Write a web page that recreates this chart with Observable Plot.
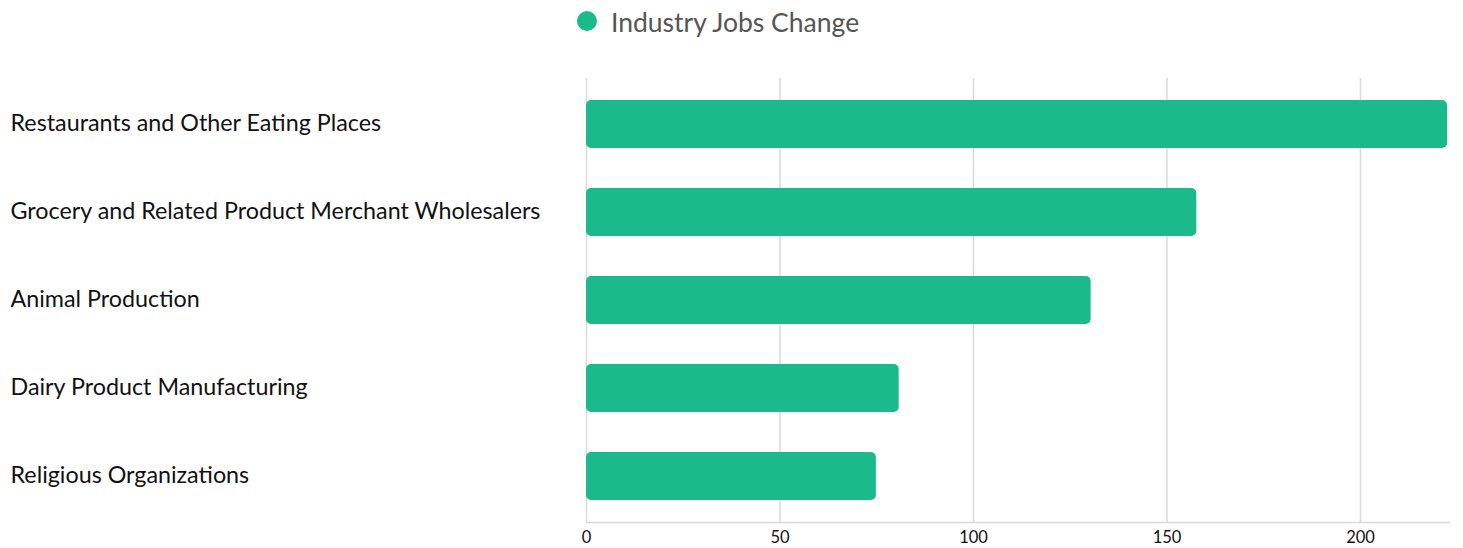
<!DOCTYPE html>
<html><head><meta charset="utf-8">
<script src="https://cdn.jsdelivr.net/npm/d3@7"></script>
<script src="https://cdn.jsdelivr.net/npm/@observablehq/plot@0.6"></script>
<style>
body{margin:0;background:#fff;font-family:Lato,"Open Sans",sans-serif;}
#legend{height:60px;position:relative;}
#legend .sw{position:absolute;left:577px;top:11px;width:20px;height:20px;border-radius:50%;}
#legend .lb{position:absolute;left:611px;top:5px;font-size:26.5px;color:#555;line-height:34px;}
</style></head>
<body>
<div id="legend"></div>
<div id="chart"></div>
<script>
const industries = ["Restaurants and Other Eating Places","Grocery and Related Product Merchant Wholesalers","Animal Production","Dairy Product Manufacturing","Religious Organizations"];
const jobsChange = [222.5, 157.7, 130.4, 80.8, 74.9];
const xTicks = [0, 50, 100, 150, 200];
const seriesName = "Industry Jobs Change";
const color = "#1bba8a";

const data = industries.map((name, i) => ({name, value: jobsChange[i]}));

const leg = document.getElementById("legend");
leg.innerHTML = `<div class="sw" style="background:${color}"></div><div class="lb">${seriesName}</div>`;

const chart = Plot.plot({
  width: 1463,
  height: 488,
  marginLeft: 586,
  marginRight: 14,
  marginTop: 18,
  marginBottom: 26,
  style: {fontFamily: "Lato, 'Open Sans', sans-serif", background: "#fff"},
  x: {domain: [0, 223], ticks: xTicks, label: null},
  y: {domain: industries, paddingInner: 0.455, paddingOuter: 0.23, label: null, axis: null},
  marks: [
    Plot.gridX(xTicks, {stroke: "#d9d9d9", strokeOpacity: 1, strokeWidth: 1.5}),
    Plot.frame({anchor: "bottom", stroke: "#d9d9d9", strokeWidth: 1.5}),
    Plot.axisX(xTicks, {tickSize: 0, tickPadding: 9, fontSize: 16.5, fill: "#111", label: null}),
    Plot.barX(data, {x: "value", y: "name", fill: color, rx: 5}),
    Plot.text(data, {y: "name", text: "name", frameAnchor: "left", dx: -576, dy: -1, textAnchor: "start", fontSize: 23.3, fill: "#111"})
  ]
});
document.getElementById("chart").append(chart);
</script>
</body></html>
